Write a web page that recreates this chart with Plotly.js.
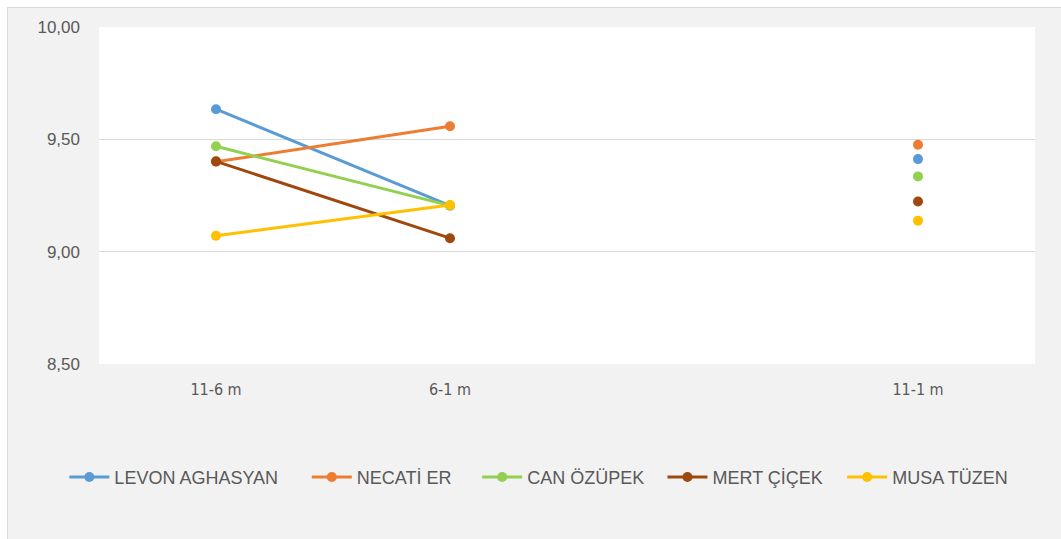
<!DOCTYPE html>
<html><head><meta charset="utf-8">
<script src="https://cdn.plot.ly/plotly-3.0.1.min.js"></script>
<style>
html,body{margin:0;padding:0;background:#fff;}
#wrap{position:absolute;left:7px;top:7px;width:1054px;height:532px;background:#f2f2f2;border-left:1px solid #d9d9d9;border-top:1px solid #d9d9d9;box-sizing:border-box;}
#chart{width:1053px;height:531px;}
</style></head><body>
<div id="wrap"><div id="chart"></div></div>
<script>
var categories = ["11-6 m", "6-1 m", " ", "11-1 m"];
var names = ["LEVON AGHASYAN", "NECATİ ER", "CAN ÖZÜPEK", "MERT ÇİÇEK", "MUSA TÜZEN"];
var levon  = [9.634, 9.205, null, 9.412];
var necati = [9.400, 9.558, null, 9.476];
var can    = [9.469, 9.205, null, 9.335];
var mert   = [9.402, 9.060, null, 9.223];
var musa   = [9.071, 9.208, null, 9.138];
var yTicks = [8.5, 9.0, 9.5, 10.0];

var colors = ["#5B9BD5", "#ED7D31", "#92D050", "#9E480E", "#FFC000"];
var legendX = [-0.037, 0.222, 0.404, 0.602, 0.794];
var series = [levon, necati, can, mert, musa];
var legendIds = ["legend", "legend2", "legend3", "legend4", "legend5"];
var traces = series.map(function(s, i){
  return {x: categories, y: s, name: names[i], type: "scatter", mode: "lines+markers",
    connectgaps: false, line: {color: colors[i], width: 3}, marker: {color: colors[i], size: 10},
    legend: legendIds[i]};
});
var layout = {
  width: 1053, height: 531,
  margin: {l: 91, r: 26, t: 19, b: 175},
  paper_bgcolor: "#f2f2f2", plot_bgcolor: "#ffffff",
  separators: ",.",
  font: {family: "Liberation Sans, Arial, sans-serif", color: "#595959", size: 15},
  xaxis: {type: "category", categoryorder: "array", categoryarray: categories, range: [-0.5, 3.5],
    showgrid: false, zeroline: false, showline: false, ticks: "", ticklabelstandoff: 14,
    tickfont: {family: "Liberation Sans Narrow, DejaVu Sans Condensed, Arial, sans-serif", size: 16, color: "#595959"}},
  yaxis: {range: [8.5, 10], tickvals: yTicks, tickformat: ".2f", showgrid: true,
    gridcolor: "#d9d9d9", gridwidth: 1, zeroline: false, showline: false, ticks: "",
    ticklabelstandoff: 18, tickfont: {size: 17, color: "#595959"}},
  showlegend: true
};
legendIds.forEach(function(id, i){
  layout[id] = {orientation: "h", x: legendX[i], xanchor: "left", y: -0.336, yanchor: "middle",
    font: {size: 18, color: "#595959"}, bgcolor: "rgba(0,0,0,0)", itemwidth: 40};
});
Plotly.newPlot("chart", traces, layout, {displayModeBar: false, staticPlot: true});
</script></body></html>
